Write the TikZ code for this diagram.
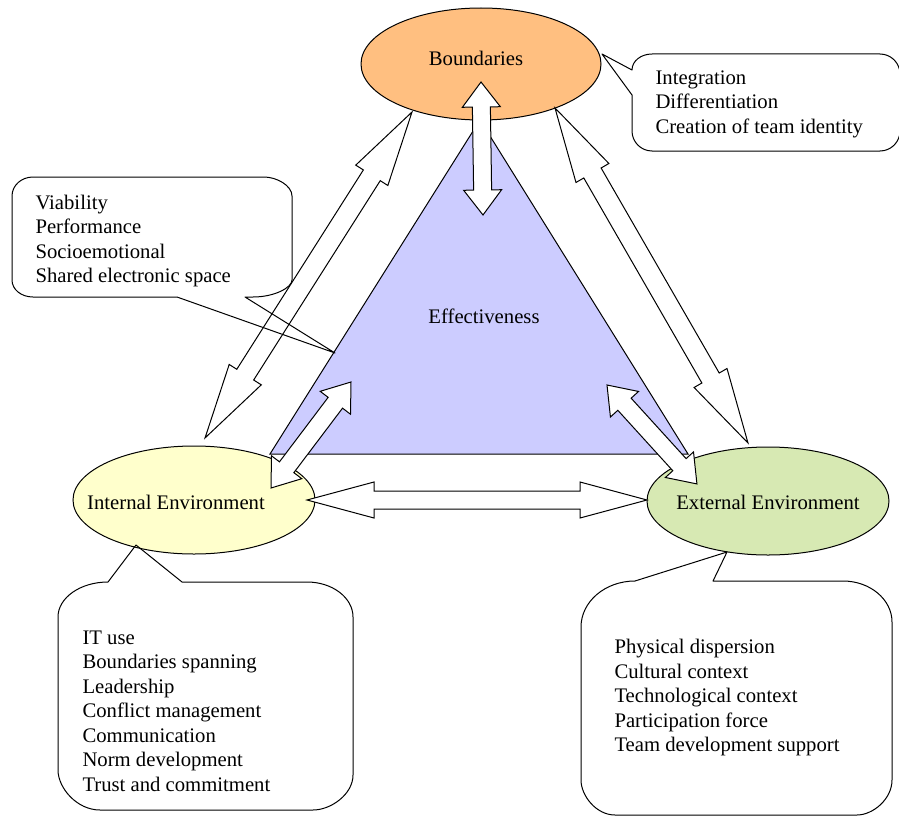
\documentclass[tikz,border=0pt]{standalone}
\usepackage{fontspec}
\setmainfont{Liberation Serif}
\usetikzlibrary{calc,shapes.geometric}
\definecolor{BndFill}{HTML}{FFBF80}
\definecolor{IntFill}{HTML}{FFFFCC}
\definecolor{ExtFill}{HTML}{D7E9B3}
\definecolor{EffFill}{HTML}{CCCCFF}

% double headed block arrow: ends, head length, head half width, shaft half width
\newcommand{\blockarrow}[5]{%
  \draw[barrow] let \p1=(#1), \p2=(#2),
    \n1={atan2(\y2-\y1,\x2-\x1)}, \n2={veclen(\x2-\x1,\y2-\y1)} in
    {[shift={(\p1)},rotate=\n1]
    (0pt,0pt) -- (#3pt,#4pt) -- (#3pt,#5pt) -- ({\n2-#3pt},#5pt)
    -- ({\n2-#3pt},#4pt) -- ({\n2+0pt},0pt) -- ({\n2-#3pt},-#4pt)
    -- ({\n2-#3pt},-#5pt) -- (#3pt,-#5pt) -- (#3pt,-#4pt) -- cycle};}

\begin{document}
\begin{tikzpicture}[x=1pt,y=-1pt,line width=1pt,
  env/.style={ellipse,draw,minimum width=242,minimum height=108,inner sep=0pt},
  barrow/.style={draw,fill=white,line join=miter},
  note/.style={draw,line join=round},
  lbl/.style={font=\fontsize{20.7}{24.5}\selectfont,inner sep=0pt},
  list/.style={lbl,align=left,anchor=west}]
  \useasboundingbox (0,0) rectangle (899,816);

  % effectiveness triangle
  \draw[fill=EffFill] (270,454) -- (480,120) -- (688,454) -- cycle;
  \node[lbl] (eff) at (484,316) {Effectiveness};

  % the three areas
  \node[env,fill=BndFill,minimum width=240,minimum height=112] (bnd) at (481,64) {};
  \node[env,fill=IntFill] (ienv) at (194,500) {};
  \node[env,fill=ExtFill] (eenv) at (768,501) {};
  \node[lbl] (bndtext) at (476,58) {Boundaries};
  \node[lbl] (ienvtext) at (176,502) {Internal Environment};
  \node[lbl] (eenvtext) at (768,502) {External Environment};

  % arrow ends
  \coordinate (bl) at (412,112);  \coordinate (il) at (205,438);
  \coordinate (br) at (555,108);  \coordinate (er) at (748,443);
  \coordinate (it) at (271,488);  \coordinate (ti) at (351,382);
  \coordinate (te) at (607,385);  \coordinate (et) at (697,484);
  \coordinate (ih) at (307,500);  \coordinate (eh) at (647,500);
  \coordinate (bv) at (481,82);   \coordinate (tv) at (483,215);

  \blockarrow{bl}{il}{75}{19}{10}
  \blockarrow{br}{er}{75}{19}{10}
  \blockarrow{it}{ti}{26}{19}{9}
  \blockarrow{te}{et}{26}{19}{9}
  \blockarrow{ih}{eh}{67}{18}{9}
  \blockarrow{bv}{tv}{25}{19}{9}

  % callouts
  \draw[note] (632,95) -- (602,54) -- (632,70)
    .. controls (632,61) and (641,54) .. (652,54) -- (880,54)
    .. controls (891,54) and (900,63) .. (900,74) -- (900,131)
    .. controls (900,142) and (891,151) .. (880,151) -- (652,151)
    .. controls (641,151) and (632,142) .. (632,131) -- cycle;
  \node[list] (bndlist) at (655,104) {Integration\\Differentiation\\Creation of team identity};

  \draw[note] (177,297) -- (335,353) -- (245,297) -- (253,297)
    .. controls (274.5,297) and (292,287.6) .. (292,280) -- (292,196)
    .. controls (292,185.5) and (276.5,177) .. (264,177) -- (33,177)
    .. controls (21.4,177) and (12,185.5) .. (12,196) -- (12,280)
    .. controls (12,289.6) and (21.4,297) .. (33,297) -- cycle;
  \node[list] (efflist) at (35,241) {Viability\\Performance\\Socioemotional\\Shared electronic space};

  \draw[note] (108,582) -- (136,545) -- (182,582) -- (307,582)
    .. controls (332.4,582) and (353,597.7) .. (353,617) -- (353,775)
    .. controls (353,794.3) and (330.9,810) .. (313,810) -- (100,810)
    .. controls (76.8,810) and (58,787.9) .. (58,770) -- (58,617)
    .. controls (58,597.7) and (80.4,582) .. (108,582) -- cycle;
  \node[list] (ienvlist) at (82,711) {IT use\\Boundaries spanning\\Leadership\\Conflict management\\Communication\\Norm development\\Trust and commitment};

  \draw[note] (635,581) -- (727,552) -- (713,581) -- (843,581)
    .. controls (870,581) and (892,599.4) .. (892,622) -- (892,780)
    .. controls (892,799.3) and (872.7,815) .. (857,815) -- (615,815)
    .. controls (596.2,815) and (581,795.7) .. (581,780) -- (581,627)
    .. controls (581,601.6) and (605.2,581) .. (635,581) -- cycle;
  \node[list] (eenvlist) at (614,698) {Physical dispersion\\Cultural context\\Technological context\\Participation force\\Team development support};
\end{tikzpicture}
\end{document}
